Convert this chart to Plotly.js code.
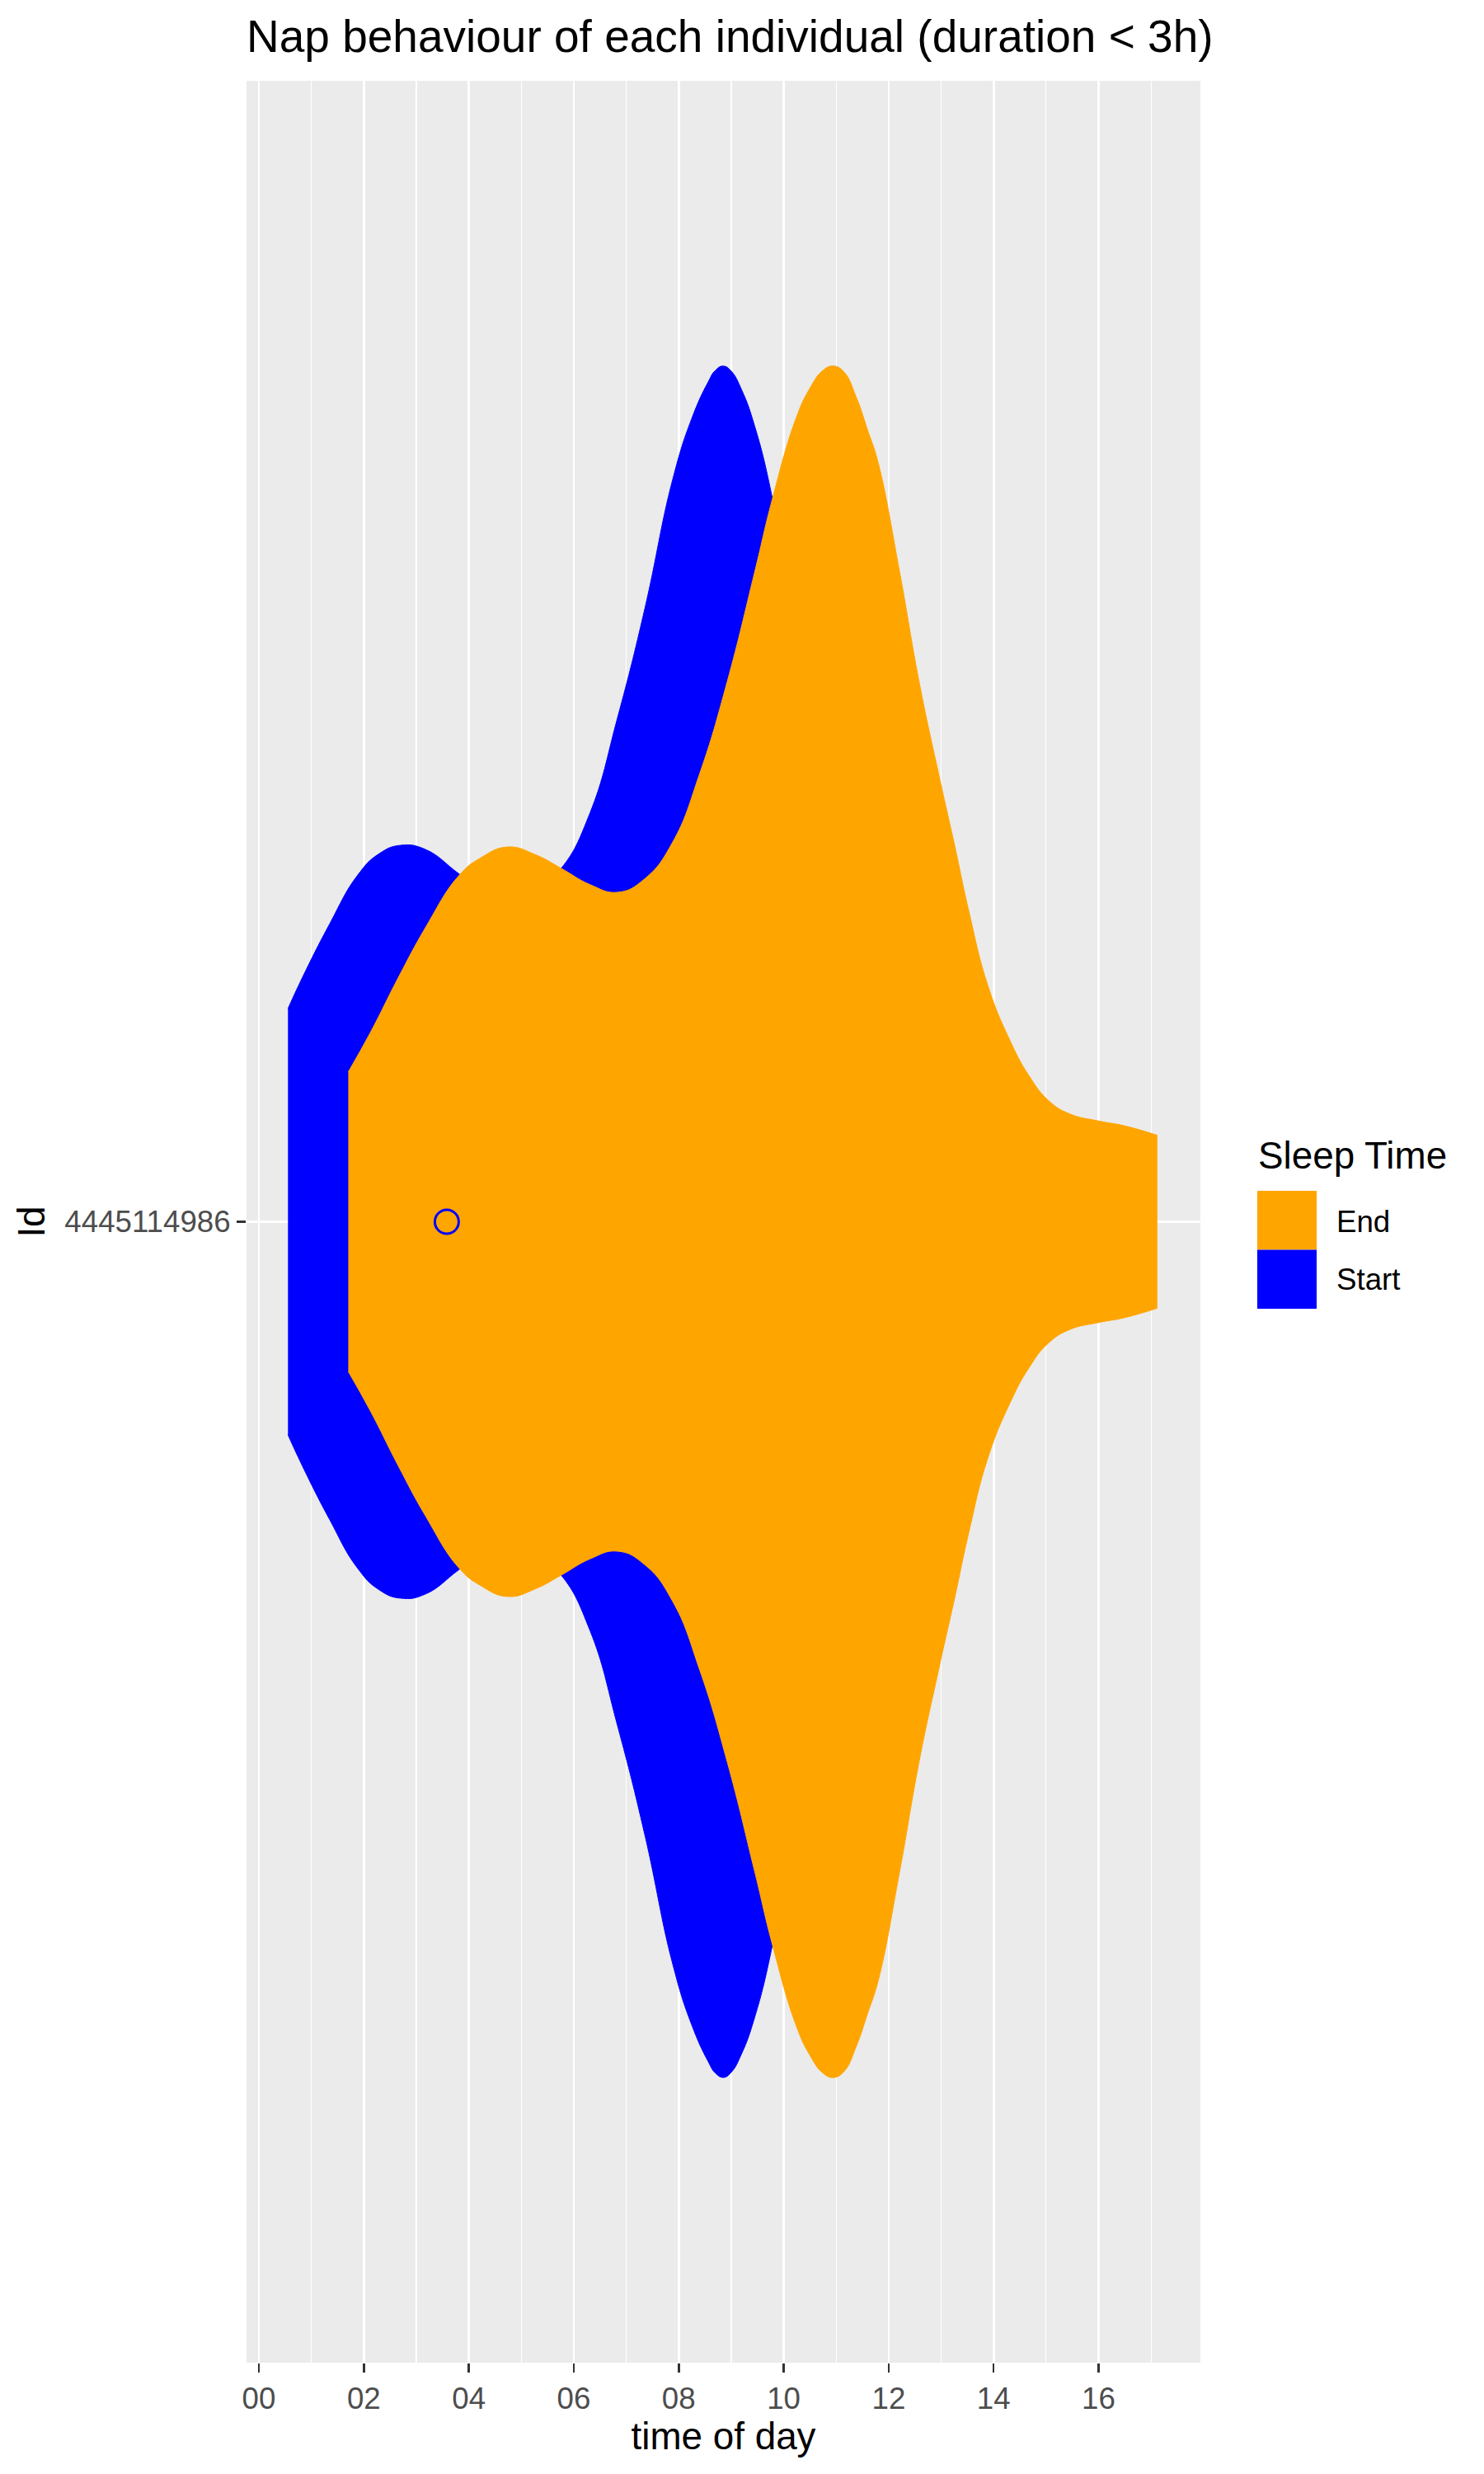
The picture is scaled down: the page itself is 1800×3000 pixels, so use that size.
<!DOCTYPE html>
<html>
<head>
<meta charset="utf-8">
<script src="https://cdn.plot.ly/plotly-3.0.1.min.js"></script>
<style>html,body{margin:0;padding:0;background:#fff;}</style>
</head>
<body>
<div id="chart" style="width:1800px;height:3000px;"></div>
<script>
// ---- data ----
const idLabel = "4445114986";
const seriesNames = ["End", "Start"];

// Start time violin outline: hour of day and relative half-width (1 = widest)
const startHours = [0.554, 0.826, 1.348, 1.870, 2.288, 2.707, 3.177, 3.804, 4.3, 4.8, 5.3, 5.76, 6.311, 6.834, 7.356, 7.879, 8.244, 8.558, 8.70, 8.85, 9.0, 9.2, 9.446, 9.786, 10.2, 10.6, 11.0, 11.5, 12.0, 12.5, 13.0];
const startWidth = [0.249, 0.285, 0.348, 0.404, 0.430, 0.440, 0.435, 0.407, 0.385, 0.375, 0.39, 0.413, 0.478, 0.589, 0.717, 0.866, 0.938, 0.981, 0.995, 1.0, 0.994, 0.972, 0.930, 0.845, 0.70, 0.55, 0.40, 0.25, 0.14, 0.08, 0.05];

// End time violin outline
const endHours = [1.703, 2.132, 2.654, 3.177, 3.804, 4.221, 4.744, 5.266, 5.76, 6.311, 6.834, 7.356, 7.879, 8.401, 8.923, 9.446, 9.786, 10.23, 10.49, 10.75, 10.95, 11.15, 11.38, 11.60, 11.80, 12.21, 12.58, 12.95, 13.26, 13.52, 13.89, 14.31, 14.67, 15.04, 15.45, 15.98, 16.50, 17.12];
const endWidth = [0.175, 0.222, 0.285, 0.344, 0.404, 0.425, 0.438, 0.429, 0.413, 0.394, 0.385, 0.401, 0.443, 0.524, 0.631, 0.759, 0.845, 0.938, 0.973, 0.995, 1.0, 0.993, 0.964, 0.925, 0.887, 0.759, 0.631, 0.524, 0.439, 0.365, 0.276, 0.212, 0.171, 0.142, 0.126, 0.118, 0.112, 0.101];

// outlier point
const outlierHour = [3.58];

// x tick labels
const xTickVals = [0, 2, 4, 6, 8, 10, 12, 14, 16];
const xTickText = ["00", "02", "04", "06", "08", "10", "12", "14", "16"];

// ---- drawing ----
const yPos = 1;          // category position
const maxHalf = 0.45;    // violin width 0.9
const colors = {Start: "#0000FF", End: "#FFA500"};

function violinTraces(hours, widths, color, name) {
  const lineStyle = {width: 1, shape: "spline", smoothing: 1.3, simplify: false, color: color};
  const lower = {
    type: "scatter", mode: "lines", x: hours,
    y: widths.map(w => yPos - maxHalf * w),
    line: lineStyle,
    hoverinfo: "skip", showlegend: false, name: name
  };
  const upper = {
    type: "scatter", mode: "lines", x: hours,
    y: widths.map(w => yPos + maxHalf * w),
    line: lineStyle,
    fill: "tonexty", fillcolor: color,
    hoverinfo: "skip", showlegend: false, name: name
  };
  return [lower, upper];
}

const traces = [
  ...violinTraces(startHours, startWidth, colors.Start, "Start"),
  ...violinTraces(endHours, endWidth, colors.End, "End"),
  {
    type: "scatter", mode: "markers", x: outlierHour, y: outlierHour.map(() => yPos),
    marker: {symbol: "circle-open", size: 29, color: colors.Start, line: {width: 3, color: colors.Start}},
    showlegend: false, hoverinfo: "skip"
  }
];

// plot area in pixels
const L = 299, R = 1456, T = 98, B = 2865;
const W = 1800, H = 3000;
const px = x => (x - L) / (R - L);
const py = y => 1 - (y - T) / (B - T);

const FONT = "Liberation Sans, Arial, Helvetica, sans-serif";

const legendShapes = [
  {type: "rect", xref: "paper", yref: "paper", x0: px(1525), x1: px(1597), y0: py(1444), y1: py(1515.5), fillcolor: colors.End, line: {width: 0}},
  {type: "rect", xref: "paper", yref: "paper", x0: px(1525), x1: px(1597), y0: py(1515.5), y1: py(1587), fillcolor: colors.Start, line: {width: 0}}
];
const legendAnnots = [
  {text: "Sleep Time", xref: "paper", yref: "paper", x: px(1524), y: py(1401), xanchor: "left", yanchor: "middle", showarrow: false, font: {family: FONT, size: 45.8, color: "#000"}},
  {text: seriesNames[0], xref: "paper", yref: "paper", x: px(1619), y: py(1481), xanchor: "left", yanchor: "middle", showarrow: false, font: {family: FONT, size: 36.7, color: "#000"}},
  {text: seriesNames[1], xref: "paper", yref: "paper", x: px(1619), y: py(1551), xanchor: "left", yanchor: "middle", showarrow: false, font: {family: FONT, size: 36.7, color: "#000"}}
];

const layout = {
  width: W, height: H,
  margin: {l: L, r: W - R, t: T, b: H - B, pad: 0},
  paper_bgcolor: "#FFFFFF",
  plot_bgcolor: "#EBEBEB",
  showlegend: false,
  title: {
    text: "Nap behaviour of each individual (duration < 3h)",
    x: 0, xref: "paper", xanchor: "left",
    y: 1 - 44 / H, yref: "container", yanchor: "middle",
    font: {family: FONT, size: 55, color: "#000"}
  },
  xaxis: {
    range: [-0.236, 17.94],
    tickmode: "array", tickvals: xTickVals, ticktext: xTickText,
    ticks: "outside", ticklen: 11, tickwidth: 2.6, tickcolor: "#333333",
    tickfont: {family: FONT, size: 36.7, color: "#4D4D4D"},
    showgrid: true, gridcolor: "#FFFFFF", gridwidth: 2.7,
    minor: {tickmode: "linear", tick0: 1, dtick: 2, showgrid: true, gridcolor: "#FFFFFF", gridwidth: 1.3, ticks: ""},
    zeroline: false, showline: false, fixedrange: true,
    title: {text: "time of day", font: {family: FONT, size: 45.8, color: "#000"}, standoff: 6}
  },
  yaxis: {
    range: [0.4, 1.6],
    tickmode: "array", tickvals: [yPos], ticktext: [idLabel],
    ticks: "outside", ticklen: 11, tickwidth: 2.6, tickcolor: "#333333",
    tickfont: {family: FONT, size: 36.7, color: "#4D4D4D"},
    showgrid: true, gridcolor: "#FFFFFF", gridwidth: 2.7,
    zeroline: false, showline: false, fixedrange: true,
    title: {text: "Id", font: {family: FONT, size: 45.8, color: "#000"}, standoff: 9}
  },
  shapes: legendShapes,
  annotations: legendAnnots
};

Plotly.newPlot("chart", traces, layout, {staticPlot: true, displayModeBar: false});
</script>
</body>
</html>
